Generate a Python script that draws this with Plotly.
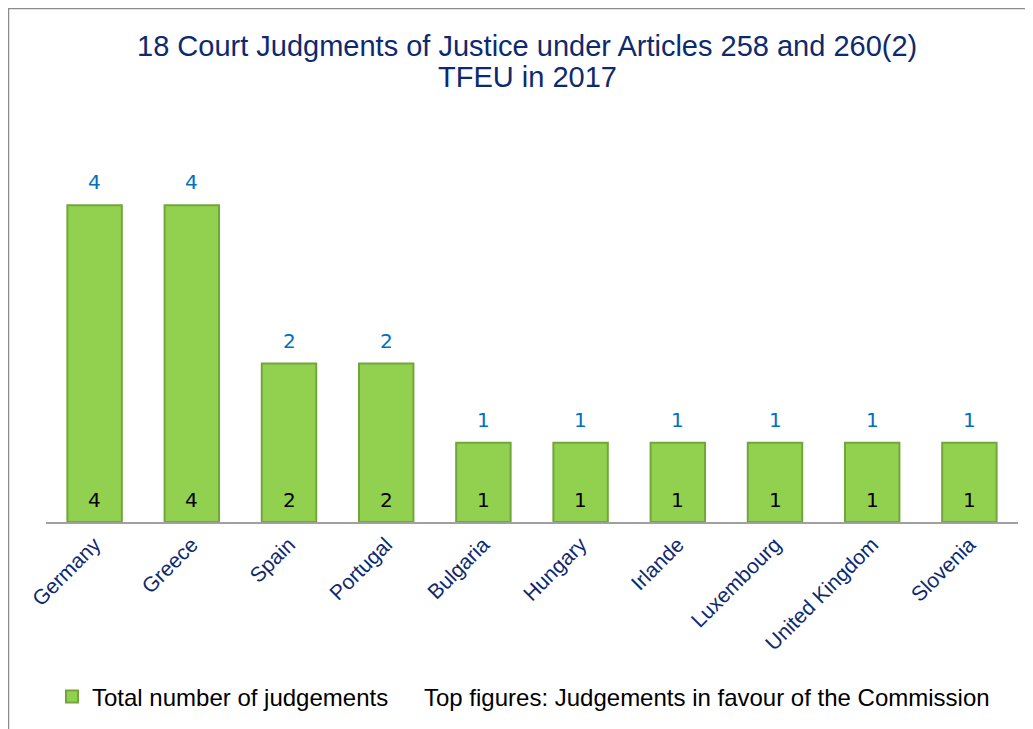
import plotly.graph_objects as go

# ================= DATA =================
countries = ["Germany", "Greece", "Spain", "Portugal", "Bulgaria",
             "Hungary", "Irlande", "Luxembourg", "United Kingdom", "Slovenia"]
total_judgements = [4, 4, 2, 2, 1, 1, 1, 1, 1, 1]
in_favour = [4, 4, 2, 2, 1, 1, 1, 1, 1, 1]

title_lines = ["18 Court Judgments of Justice under Articles 258 and 260(2)",
               "TFEU in 2017"]

W, H = 1033, 729
# page body adds an 8px offset, so positions below are shifted back by 8
L, R, T, B = 38, 23, 118, 215
plot_w = W - L - R
plot_h = H - T - B

NAVY = "#0E2A6E"


def py(px):
    """figure pixel row -> paper y"""
    return (T + plot_h - px) / plot_h


fig = go.Figure()

# ================= BARS =================
fig.add_trace(go.Bar(
    x=countries,
    y=total_judgements,
    name="Total number of judgements",
    marker=dict(color="#92D050", line=dict(color="#72A63A", width=2)),
    hoverinfo="x+y",
))

# numbers inside bars (total) and above bars (in favour)
for c, tot, fav in zip(countries, total_judgements, in_favour):
    fig.add_annotation(
        x=c, y=0, text=str(tot), showarrow=False,
        yanchor="middle", yshift=22,
        font=dict(family="DejaVu Sans", size=20, color="#000000"),
    )
    fig.add_annotation(
        x=c, y=fav, text=str(fav), showarrow=False,
        yanchor="middle", yshift=23,
        font=dict(family="DejaVu Sans", size=20, color="#0070C0"),
    )

# ================= TITLE (two lines, tight spacing) =================
for line, row in zip(title_lines, [38, 69]):
    fig.add_annotation(
        text=line, xref="paper", yref="paper",
        x=(519 - L) / plot_w, y=py(row),
        xanchor="center", yanchor="middle", showarrow=False,
        font=dict(family="Liberation Sans", size=29, color=NAVY),
    )

fig.add_annotation(
    text="Top figures: Judgements in favour of the Commission",
    xref="paper", yref="paper",
    x=(414 - L) / plot_w, y=py(689),
    xanchor="left", yanchor="middle", showarrow=False,
    font=dict(family="Liberation Sans", size=24, color="#000000"),
)

# frame around the chart
fig.add_shape(
    type="rect", xref="paper", yref="paper",
    x0=(0.5 - L) / plot_w, x1=1.2,
    y0=-1.0, y1=py(0.5),
    line=dict(color="#8C8C8C", width=1.5),
    fillcolor="rgba(0,0,0,0)", layer="below",
)

# ================= LAYOUT =================
fig.update_layout(
    width=W, height=H,
    margin=dict(l=L, r=R, t=T, b=B),
    paper_bgcolor="white",
    plot_bgcolor="white",
    bargap=0.44,
    font=dict(family="Liberation Sans"),
    xaxis=dict(
        showline=True, linecolor="#A0A0A0", linewidth=2,
        tickangle=-45, ticks="",
        tickfont=dict(family="Liberation Sans", size=21, color=NAVY),
        showgrid=False,
    ),
    yaxis=dict(visible=False, range=[0, 5], showgrid=False, zeroline=False),
    showlegend=True,
    legend=dict(
        orientation="h",
        x=(44 - L) / plot_w, xanchor="left",
        y=py(689), yanchor="middle",
        font=dict(family="Liberation Sans", size=24, color="#000000"),
    ),
)

fig.write_html("out.html")
